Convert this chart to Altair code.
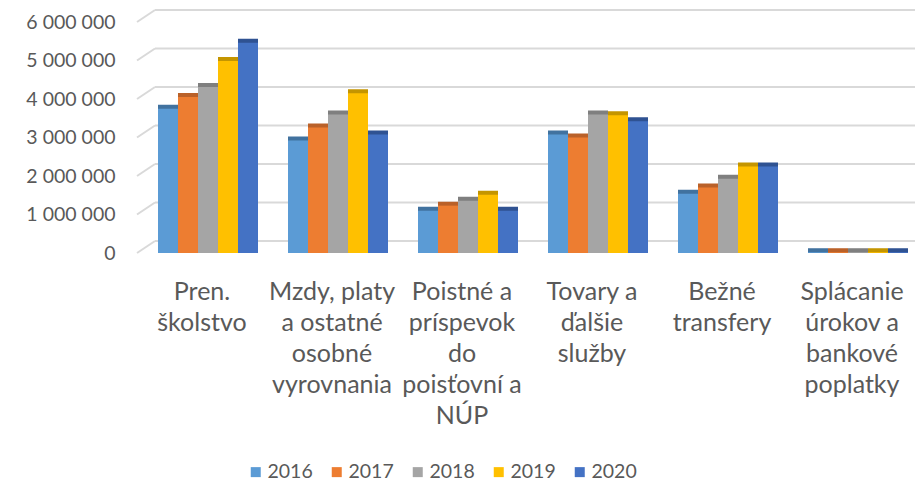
import altair as alt
import pandas as pd

# ---- data ----
categories = [
    "Pren.\nškolstvo",
    "Mzdy, platy\na ostatné\nosobné\nvyrovnania",
    "Poistné a\npríspevok\ndo\npoisťovní a\nNÚP",
    "Tovary a\nďalšie\nslužby",
    "Bežné\ntransfery",
    "Splácanie\núrokov a\nbankové\npoplatky",
]
years = ["2016", "2017", "2018", "2019", "2020"]
v2016 = [3750000, 2920000, 1100000, 3080000, 1540000, 20000]
v2017 = [4050000, 3260000, 1230000, 3000000, 1700000, 20000]
v2018 = [4310000, 3600000, 1360000, 3600000, 1930000, 20000]
v2019 = [4990000, 4150000, 1510000, 3580000, 2250000, 20000]
v2020 = [5460000, 3080000, 1100000, 3420000, 2250000, 20000]
y_ticks = [0, 1000000, 2000000, 3000000, 4000000, 5000000, 6000000]

front_colors = ["#5B9BD5", "#ED7D31", "#A5A5A5", "#FFC000", "#4472C4"]
dark_colors = ["#41729F", "#BA6129", "#7F7F7F", "#C49500", "#2F5292"]

series = [v2016, v2017, v2018, v2019, v2020]
rows = []
for yr, vals in zip(years, series):
    for c, v in zip(categories, vals):
        rows.append({"category": c, "year": yr, "value": v})
df = pd.DataFrame(rows)
grid_df = pd.DataFrame({"tick": y_ticks})

FONT = "Lato"
TXT = "#595959"
GRID = "#D9D9D9"

y_scale = alt.Scale(domain=[0, 6000000], nice=False, zero=True)
y_axis = alt.Axis(
    title=None,
    values=y_ticks,
    labelExpr="replace(format(datum.value, ',d'), /,/g, ' ')",
    labelFont=FONT,
    labelFontSize=19.5,
    labelColor=TXT,
    labelPadding=43,
    ticks=False,
    domain=False,
    grid=False,
)

x_enc = alt.X(
    "category:N",
    sort=categories,
    scale=alt.Scale(paddingInner=0.2308, paddingOuter=0),
    axis=alt.Axis(
        title=None,
        labelAngle=0,
        labelExpr="split(datum.label, '\\n')",
        labelFont=FONT,
        labelFontSize=25,
        labelColor=TXT,
        labelLineHeight=31,
        labelPadding=26,
        labelOffset=-6,
        labelLimit=300,
        ticks=False,
        domain=False,
        grid=False,
    ),
)
y_enc = alt.Y("value:Q", scale=y_scale, axis=y_axis)
xoff = alt.XOffset("year:N", sort=years, scale=alt.Scale(paddingInner=0, paddingOuter=0))

grid = alt.Chart(grid_df).mark_rule(color=GRID, strokeWidth=2, yOffset=-12).encode(
    y=alt.Y("tick:Q", scale=y_scale, axis=y_axis),
    x=alt.value(-3),
    x2=alt.value(757),
)
diag = alt.Chart(grid_df).mark_rule(color=GRID, strokeWidth=2, y2Offset=-12).encode(
    y=alt.Y("tick:Q", scale=y_scale, axis=y_axis),
    y2=alt.Y2("tick:Q"),
    x=alt.value(-21),
    x2=alt.value(-3),
)

back = alt.Chart(df).mark_bar(xOffset=5, x2Offset=5, yOffset=-4, y2Offset=0).encode(
    x=x_enc,
    xOffset=xoff,
    y=y_enc,
    y2=alt.Y2Datum(0),
    color=alt.Color("year:N", scale=alt.Scale(domain=years, range=dark_colors), legend=None),
)
front = alt.Chart(df).mark_bar().encode(
    x=x_enc,
    xOffset=xoff,
    y=y_enc,
    color=alt.Color(
        "year:N",
        scale=alt.Scale(domain=years, range=front_colors),
        legend=alt.Legend(
            title=None,
            orient="none",
            legendX=88,
            legendY=440,
            direction="horizontal",
            symbolType="square",
            symbolSize=100,
            symbolStrokeWidth=0,
            labelFont=FONT,
            labelFontSize=19.5,
            labelColor=TXT,
            labelOffset=2,
            columnPadding=14,
            padding=0,
        ),
    ),
)

chart = (
    alt.layer(grid, diag, back, front)
    .resolve_scale(color="independent")
    .properties(
        width=750,
        height=231,
        autosize=alt.AutoSizeParams(type="none"),
        padding={"left": 150, "top": 14, "right": 7, "bottom": 228},
        background="white",
    )
    .configure_view(stroke=None)
)

chart.save("out.html", embed_options={"renderer": "svg", "actions": False})
